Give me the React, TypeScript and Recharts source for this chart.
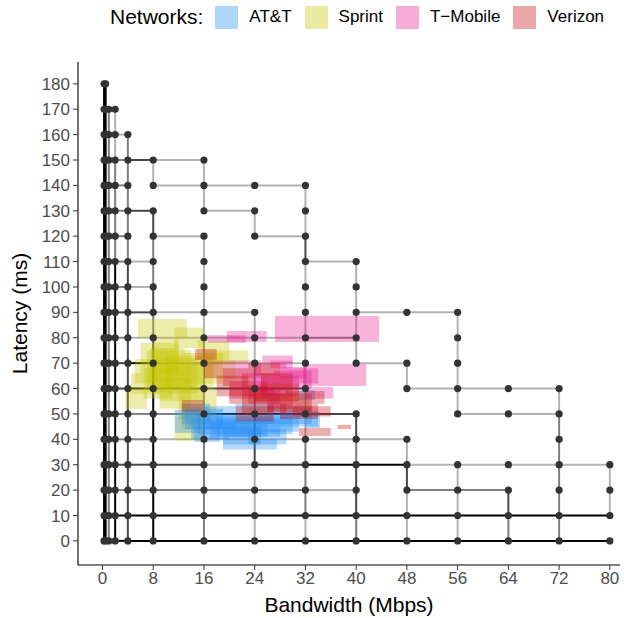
import React from 'react';
import {
  ComposedChart,
  XAxis,
  YAxis,
  Scatter,
  ReferenceLine,
  ReferenceArea,
  Legend,
} from 'recharts';

const FONT = '"Liberation Sans", Arial, Helvetica, sans-serif';

const xTicks = [0, 8, 16, 24, 32, 40, 48, 56, 64, 72, 80];
const yTicks = [0, 10, 20, 30, 40, 50, 60, 70, 80, 90, 100, 110, 120, 130, 140, 150, 160, 170, 180];

const networks = ['AT&T', 'Sprint', 'T\u2212Mobile', 'Verizon'];
const networkColors = ['#1e8cf5', '#c4c400', '#e8178f', '#c40a0a'];

// grid of evaluated points: [latency, bandwidths]
const leftCols = [0.25, 0.5, 1, 2, 4];
const gridRows: [number, number[]][] = [
  [180, [0.25, 0.5]],
  [170, [0.25, 0.5, 1, 2]],
  [160, [0.25, 0.5, 1, 2, 4]],
  [150, [...leftCols, 8, 16]],
  [140, [...leftCols, 8, 16, 24, 32]],
  [130, [...leftCols, 8, 16, 24, 32]],
  [120, [...leftCols, 8, 16, 24, 32]],
  [110, [...leftCols, 8, 16, 32, 40]],
  [100, [...leftCols, 8, 16, 32, 40]],
  [90, [...leftCols, 8, 16, 24, 32, 40, 48, 56]],
  [80, [...leftCols, 8, 16, 24, 32, 40, 56]],
  [70, [...leftCols, 8, 16, 24, 32, 40, 48, 56]],
  [60, [...leftCols, 8, 16, 24, 32, 48, 56, 64, 72]],
  [50, [...leftCols, 8, 16, 24, 32, 40, 56, 64, 72]],
  [40, [...leftCols, 8, 16, 24, 32, 40, 48, 72]],
  [30, [...leftCols, 8, 16, 24, 32, 40, 48, 56, 64, 72, 80]],
  [20, [...leftCols, 8, 16, 24, 32, 40, 48, 56, 64, 72, 80]],
  [10, [...leftCols, 8, 16, 24, 32, 40, 48, 56, 64, 72, 80]],
  [0, [...leftCols, 8, 16, 24, 32, 40, 48, 56, 64, 72, 80]],
];

// horizontal path pieces: [latency, bwFrom, bwTo, overlap level]
const hSegments: [number, number, number, number][] = [
  [170, 1, 2, 2],
  [160, 1, 2, 2], [160, 2, 4, 1],
  [150, 1, 2, 2], [150, 2, 4, 2], [150, 4, 8, 3], [150, 8, 16, 1],
  [140, 1, 2, 2], [140, 2, 4, 2], [140, 8, 16, 1], [140, 16, 24, 1], [140, 24, 32, 1],
  [130, 1, 2, 2], [130, 2, 4, 2], [130, 4, 8, 3], [130, 16, 24, 1],
  [120, 1, 2, 2], [120, 2, 4, 2], [120, 8, 16, 1], [120, 24, 32, 1],
  [110, 1, 2, 2], [110, 2, 4, 2], [110, 4, 8, 1], [110, 32, 40, 1],
  [100, 1, 2, 2], [100, 2, 4, 2], [100, 4, 8, 1],
  [90, 1, 2, 2], [90, 2, 4, 3], [90, 4, 8, 3], [90, 8, 16, 1], [90, 16, 24, 1], [90, 40, 48, 1], [90, 48, 56, 1],
  [80, 1, 2, 2], [80, 2, 4, 2], [80, 4, 8, 1], [80, 8, 16, 1], [80, 16, 24, 1], [80, 24, 32, 1], [80, 32, 40, 2],
  [70, 1, 2, 2], [70, 2, 4, 3], [70, 4, 8, 4], [70, 8, 16, 2], [70, 16, 24, 1], [70, 24, 32, 1], [70, 40, 48, 1],
  [60, 1, 2, 2], [60, 2, 4, 3], [60, 4, 8, 4], [60, 8, 16, 3], [60, 16, 24, 3], [60, 24, 32, 3], [60, 48, 56, 1], [60, 56, 64, 1], [60, 64, 72, 1],
  [50, 1, 2, 2], [50, 2, 4, 2], [50, 4, 8, 2], [50, 8, 16, 2], [50, 16, 24, 4], [50, 24, 32, 4], [50, 32, 40, 3], [50, 56, 64, 1], [50, 64, 72, 1],
  [40, 1, 2, 2], [40, 2, 4, 2], [40, 4, 8, 2], [40, 8, 16, 1], [40, 16, 24, 1], [40, 24, 32, 1], [40, 32, 40, 1], [40, 40, 48, 1],
  [30, 1, 2, 2], [30, 2, 4, 3], [30, 4, 8, 3], [30, 8, 16, 3], [30, 16, 24, 1], [30, 24, 32, 3], [30, 32, 40, 4], [30, 40, 48, 4], [30, 48, 56, 1], [30, 56, 64, 1], [30, 64, 72, 1], [30, 72, 80, 1],
  [20, 1, 2, 2], [20, 2, 4, 2], [20, 4, 8, 2], [20, 8, 16, 2], [20, 16, 24, 2], [20, 24, 32, 2], [20, 32, 40, 1], [20, 48, 56, 2], [20, 56, 64, 2],
  [10, 1, 2, 4], [10, 2, 4, 4], [10, 4, 80, 4],
  [0, 1, 2, 4], [0, 2, 4, 4], [0, 4, 80, 4],
];

// vertical path pieces: [bandwidth, latFrom, latTo, overlap level]
const vSegments: [number, number, number, number][] = [
  [0.25, 180, 0, 4], [0.5, 180, 0, 4], [1, 170, 0, 2],
  [2, 170, 150, 1], [2, 150, 110, 2], [2, 110, 0, 4],
  [4, 160, 110, 2], [4, 110, 0, 3],
  [8, 150, 140, 1], [8, 130, 120, 3], [8, 120, 110, 2], [8, 110, 100, 2], [8, 100, 90, 3], [8, 90, 80, 2], [8, 80, 70, 3], [8, 70, 0, 4],
  [16, 150, 130, 1], [16, 120, 80, 1], [16, 80, 0, 2],
  [24, 130, 120, 1], [24, 90, 70, 1], [24, 70, 50, 2], [24, 50, 30, 3], [24, 30, 0, 1],
  [32, 140, 120, 1], [32, 120, 110, 3], [32, 110, 40, 1], [32, 40, 10, 2], [32, 10, 0, 1],
  [40, 110, 70, 1], [40, 50, 40, 3], [40, 40, 30, 2], [40, 30, 10, 3], [40, 10, 0, 2],
  [48, 70, 60, 1], [48, 40, 30, 1], [48, 30, 20, 3], [48, 20, 0, 1],
  [56, 90, 50, 1], [56, 30, 0, 1],
  [64, 20, 10, 3], [64, 10, 0, 2],
  [72, 60, 50, 1], [72, 50, 0, 2],
  [80, 30, 10, 1],
];
const levelOpacity = [0, 0.3, 0.5, 0.72, 1];

// measurement boxes: [bwLow, bwHigh, latLow, latHigh]
const sprintRects: [number, number, number, number][] = [
  [5.6, 13.3, 80, 87.4], [11.3, 16, 76, 84], [3.6, 7, 52, 60], [5.1, 8.6, 62, 71.6],
  [11.4, 15.8, 39.5, 49], [16, 23, 70, 75], [15, 20, 71, 79], [6, 12, 66, 78],
  [7, 14, 60, 75], [8, 15, 58, 72], [9, 16, 55, 70], [7.5, 13, 63, 76],
  [10, 17.5, 60, 73], [6.5, 11, 56, 68], [12, 18, 48, 60], [9, 14, 52, 64],
  [13, 19, 62, 74], [8, 12, 70, 80], [12.5, 16, 44, 54], [4.5, 9, 58, 66],
];
const attRects: [number, number, number, number][] = [
  [19, 27.5, 36, 40], [32, 34.3, 44.5, 50.8], [31, 33.5, 55.5, 59.4], [11.4, 15.4, 42.5, 51.6],
  [14, 20, 40, 48], [15, 22, 42, 50], [17, 24, 40, 47], [18, 26, 41, 49],
  [20, 28, 41, 48], [13, 19, 44, 52], [22, 30, 42, 50], [16, 21, 44, 53],
  [24, 31, 43, 49], [19, 25, 38, 45], [26, 33, 46, 53], [21, 27, 46, 54],
  [14.5, 18.5, 39, 45], [28, 34, 45, 51], [12.5, 17, 46, 54], [23, 29, 38, 44],
];
const tmobileRects: [number, number, number, number][] = [
  [27.2, 43.6, 78.3, 88.6], [31.6, 41.6, 61, 69.7], [32, 36.4, 56, 60.6], [16.6, 22.6, 78, 81],
  [19.6, 25.9, 78.3, 82.7], [25.2, 30, 70, 73], [28, 32, 64, 68.5], [26.5, 30, 68, 71],
  [24, 29, 62, 70], [22, 27, 58, 66], [25, 31, 57, 65], [27, 33, 60, 67],
  [20, 26, 56, 63], [23, 28, 54, 60], [26, 30, 52, 59], [29, 34, 62, 68], [21, 25, 64, 71],
];
const verizonRects: [number, number, number, number][] = [
  [37.1, 39.2, 44, 45.7], [31, 36, 41.3, 44.5], [14.6, 18, 71.3, 75.6], [12.5, 15.9, 50.8, 55.5],
  [20, 26, 54, 61], [22, 29, 50, 58], [24, 31, 55, 62], [18, 24, 57, 65],
  [26, 33, 51, 58], [21, 27, 47, 53], [28, 34, 48, 54], [19, 23, 61, 68],
  [25, 30, 59, 66], [16, 21, 64, 71], [29, 35, 54, 59], [23, 28, 65, 70], [30, 36, 49, 53],
];
const rectGroups = [
  { rects: sprintRects, color: networkColors[1] },
  { rects: attRects, color: networkColors[0] },
  { rects: tmobileRects, color: networkColors[2] },
  { rects: verizonRects, color: networkColors[3] },
];

const RECT_ALPHA = 0.33;

const points = gridRows.flatMap(([lat, bws]) => bws.map((bw) => ({ bw, lat })));

const renderLegend = () => (
  <div
    style={{
      height: 34,
      display: 'flex',
      alignItems: 'center',
      paddingLeft: 110,
      fontFamily: FONT,
      whiteSpace: 'nowrap',
      color: '#000',
    }}
  >
    <span style={{ fontSize: 21, marginRight: 12 }}>Networks:</span>
    {networks.map((n, i) => (
      <React.Fragment key={n}>
        <span
          style={{
            width: 23,
            height: 23,
            background: networkColors[i],
            opacity: 0.36,
            display: 'inline-block',
            marginRight: 11,
          }}
        />
        <span style={{ fontSize: 17, marginRight: 13 }}>{n}</span>
      </React.Fragment>
    ))}
  </div>
);

const Dot = (p: any) => <circle cx={p.cx} cy={p.cy} r={3.6} fill="#333333" />;

export default function App() {
  return (
    <div style={{ position: 'absolute', left: 0, top: 0, width: 624, height: 618, background: '#fff' }}>
      <ComposedChart width={624} height={618} margin={{ top: 28, right: 4, bottom: 0, left: 0 }}>
        <Legend
          verticalAlign="top"
          align="left"
          content={renderLegend}
          wrapperStyle={{ top: 0, left: 0, width: 624, height: 34 }}
        />
        <XAxis
          type="number"
          dataKey="bw"
          domain={[-3.86, 81.6]}
          allowDataOverflow
          ticks={xTicks}
          interval={0}
          height={53}
          tickSize={5}
          tickMargin={2}
          axisLine={{ stroke: '#000', strokeWidth: 1.1 }}
          tickLine={{ stroke: '#333' }}
          tick={{ fontSize: 17, fill: '#4d4d4d', fontFamily: FONT }}
          label={{
            content: (props: any) => {
              const vb = props.viewBox;
              return (
                <text x={vb.x + vb.width / 2} y={612} textAnchor="middle" fontSize={21} fontFamily={FONT} fill="#000">
                  Bandwidth (Mbps)
                </text>
              );
            },
          }}
        />
        <YAxis
          type="number"
          dataKey="lat"
          domain={[-9.5, 188.6]}
          allowDataOverflow
          ticks={yTicks}
          interval={0}
          width={78}
          tickSize={5}
          tickMargin={3}
          axisLine={{ stroke: '#000', strokeWidth: 1.1 }}
          tickLine={{ stroke: '#333' }}
          tick={{ fontSize: 17, fill: '#4d4d4d', fontFamily: FONT }}
          label={{
            content: (props: any) => {
              const vb = props.viewBox;
              const cx = 27;
              const cy = vb.y + vb.height / 2;
              return (
                <text
                  x={cx}
                  y={cy}
                  transform={`rotate(-90, ${cx}, ${cy})`}
                  textAnchor="middle"
                  fontSize={21}
                  fontFamily={FONT}
                  fill="#000"
                >
                  Latency (ms)
                </text>
              );
            },
          }}
        />
        {hSegments.map(([lat, a, b, lv], i) => (
          <ReferenceLine
            key={`h${i}`}
            segment={[{ x: a, y: lat }, { x: b, y: lat }]}
            stroke="#000"
            strokeOpacity={levelOpacity[lv]}
            strokeWidth={2}
            ifOverflow="visible"
            zIndex={100}
          />
        ))}
        {vSegments.map(([bw, a, b, lv], i) => (
          <ReferenceLine
            key={`v${i}`}
            segment={[{ x: bw, y: a }, { x: bw, y: b }]}
            stroke="#000"
            strokeOpacity={levelOpacity[lv]}
            strokeWidth={2}
            ifOverflow="visible"
            zIndex={100}
          />
        ))}
        {rectGroups.flatMap((g, gi) =>
          g.rects.map(([x1, x2, y1, y2], i) => (
            <ReferenceArea
              key={`r${gi}-${i}`}
              x1={x1}
              x2={x2}
              y1={y1}
              y2={y2}
              fill={g.color}
              fillOpacity={RECT_ALPHA}
              stroke="none"
              ifOverflow="visible"
              zIndex={200}
            />
          ))
        )}
        <Scatter data={points} dataKey="lat" shape={Dot} isAnimationActive={false} zIndex={300} />
      </ComposedChart>
    </div>
  );
}
